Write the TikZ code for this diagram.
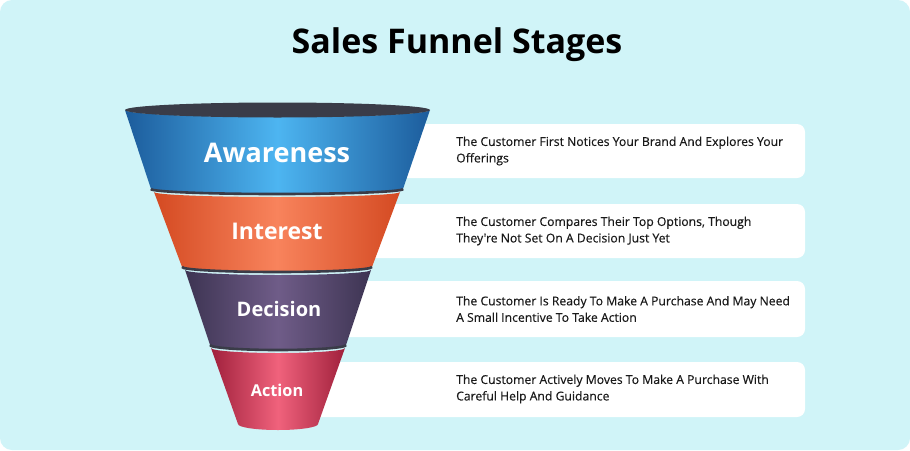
\documentclass[tikz,border=0pt]{standalone}
\usepackage{fontspec}
\setmainfont{Open Sans}
\newfontfamily\descfont[FakeBold=0.3]{Open Sans}
\newfontfamily\labfont{Open Sans}
\definecolor{bgc}{HTML}{D0F4F8}
\definecolor{sep}{HTML}{3A3C48}
\definecolor{blueE}{HTML}{1C5C9C}
\definecolor{blueM}{HTML}{4DB5F1}
\definecolor{oraE}{HTML}{D44A22}
\definecolor{oraM}{HTML}{F8835C}
\definecolor{purE}{HTML}{3D3452}
\definecolor{purM}{HTML}{6F5C88}
\definecolor{pinE}{HTML}{A0203C}
\definecolor{pinM}{HTML}{F0627C}
\definecolor{txt}{HTML}{1A1A1A}
\tikzset{
  descbox/.style={fill=white, rounded corners=8pt},
  desctext/.style={anchor=west, align=left, text=txt, font=\descfont\fontsize{12.2}{16.5}\selectfont, inner sep=0pt},
  stagelab/.style={text=white, font=\labfont\bfseries, inner sep=0pt},
  sepline/.style={draw=sep, line width=2.6pt},
}
\begin{document}
\begin{tikzpicture}[x=1pt,y=-1pt]
\useasboundingbox (0,0) rectangle (910,450);
\fill[white] (0,0) rectangle (910,450);
\fill[bgc, rounded corners=12pt] (0,0) rectangle (910,450);

\node[font=\bfseries\fontsize{34}{39}\selectfont, text=black] (title) at (457,45) {Sales Funnel Stages};

% description boxes (extend behind the funnel)
\fill[descbox] (280,124) rectangle (805,178);
\fill[descbox] (280,204) rectangle (805,258);
\fill[descbox] (280,281) rectangle (805,337);
\fill[descbox] (280,362) rectangle (805,417);

\node[desctext] (d1) at (456,151) {The Customer First Notices Your Brand And Explores Your\\Offerings};
\node[desctext] (d2) at (456,231) {The Customer Compares Their Top Options, Though\\They're Not Set On A Decision Just Yet};
\node[desctext] (d3) at (456,309) {The Customer Is Ready To Make A Purchase And May Need\\A Small Incentive To Take Action};
\node[desctext] (d4) at (456,389) {The Customer Actively Moves To Make A Purchase With\\Careful Help And Guidance};

% funnel bands (bottom to top)
% Action
\path[left color=pinE, right color=pinE, middle color=pinM]
  (211,348) -- (238,424) arc[start angle=180,end angle=360,x radius=40pt,y radius=6pt]
  -- (345,348) arc[start angle=0,end angle=-180,x radius=67pt,y radius=5pt] -- cycle;
% Decision
\path[left color=purE, right color=purE, middle color=purM]
  (185,270) -- (210,345) arc[start angle=180,end angle=360,x radius=68pt,y radius=5pt]
  -- (371,270) arc[start angle=0,end angle=-180,x radius=93pt,y radius=5pt] -- cycle;
\draw[sepline] (210,345) arc[start angle=180,end angle=360,x radius=68pt,y radius=5pt];
% Interest
\path[left color=oraE, right color=oraE, middle color=oraM]
  (154,192) -- (182,267) arc[start angle=180,end angle=360,x radius=95pt,y radius=5pt]
  -- (400,192) arc[start angle=0,end angle=-180,x radius=123pt,y radius=5pt] -- cycle;
\draw[sepline] (182,267) arc[start angle=180,end angle=360,x radius=95pt,y radius=5pt];
% Awareness
\path[left color=blueE, right color=blueE, middle color=blueM]
  (125,110) -- (151,189) arc[start angle=180,end angle=360,x radius=126pt,y radius=5pt]
  -- (430,110) arc[start angle=0,end angle=-180,x radius=152.5pt,y radius=7pt] -- cycle;
\draw[sepline] (151,189) arc[start angle=180,end angle=360,x radius=126pt,y radius=5pt];
% top rim
\fill[sep] (277.5,110) ellipse[x radius=152.5pt, y radius=7.5pt];

\node[stagelab, font=\labfont\bfseries\fontsize{27}{31}\selectfont] (s1) at (277,153) {Awareness};
\node[stagelab, font=\labfont\bfseries\fontsize{23}{27}\selectfont] (s2) at (277,231) {Interest};
\node[stagelab, font=\labfont\bfseries\fontsize{20}{24}\selectfont] (s3) at (279,309) {Decision};
\node[stagelab, font=\labfont\bfseries\fontsize{16.3}{20}\selectfont] (s4) at (277,390) {Action};
\end{tikzpicture}
\end{document}
